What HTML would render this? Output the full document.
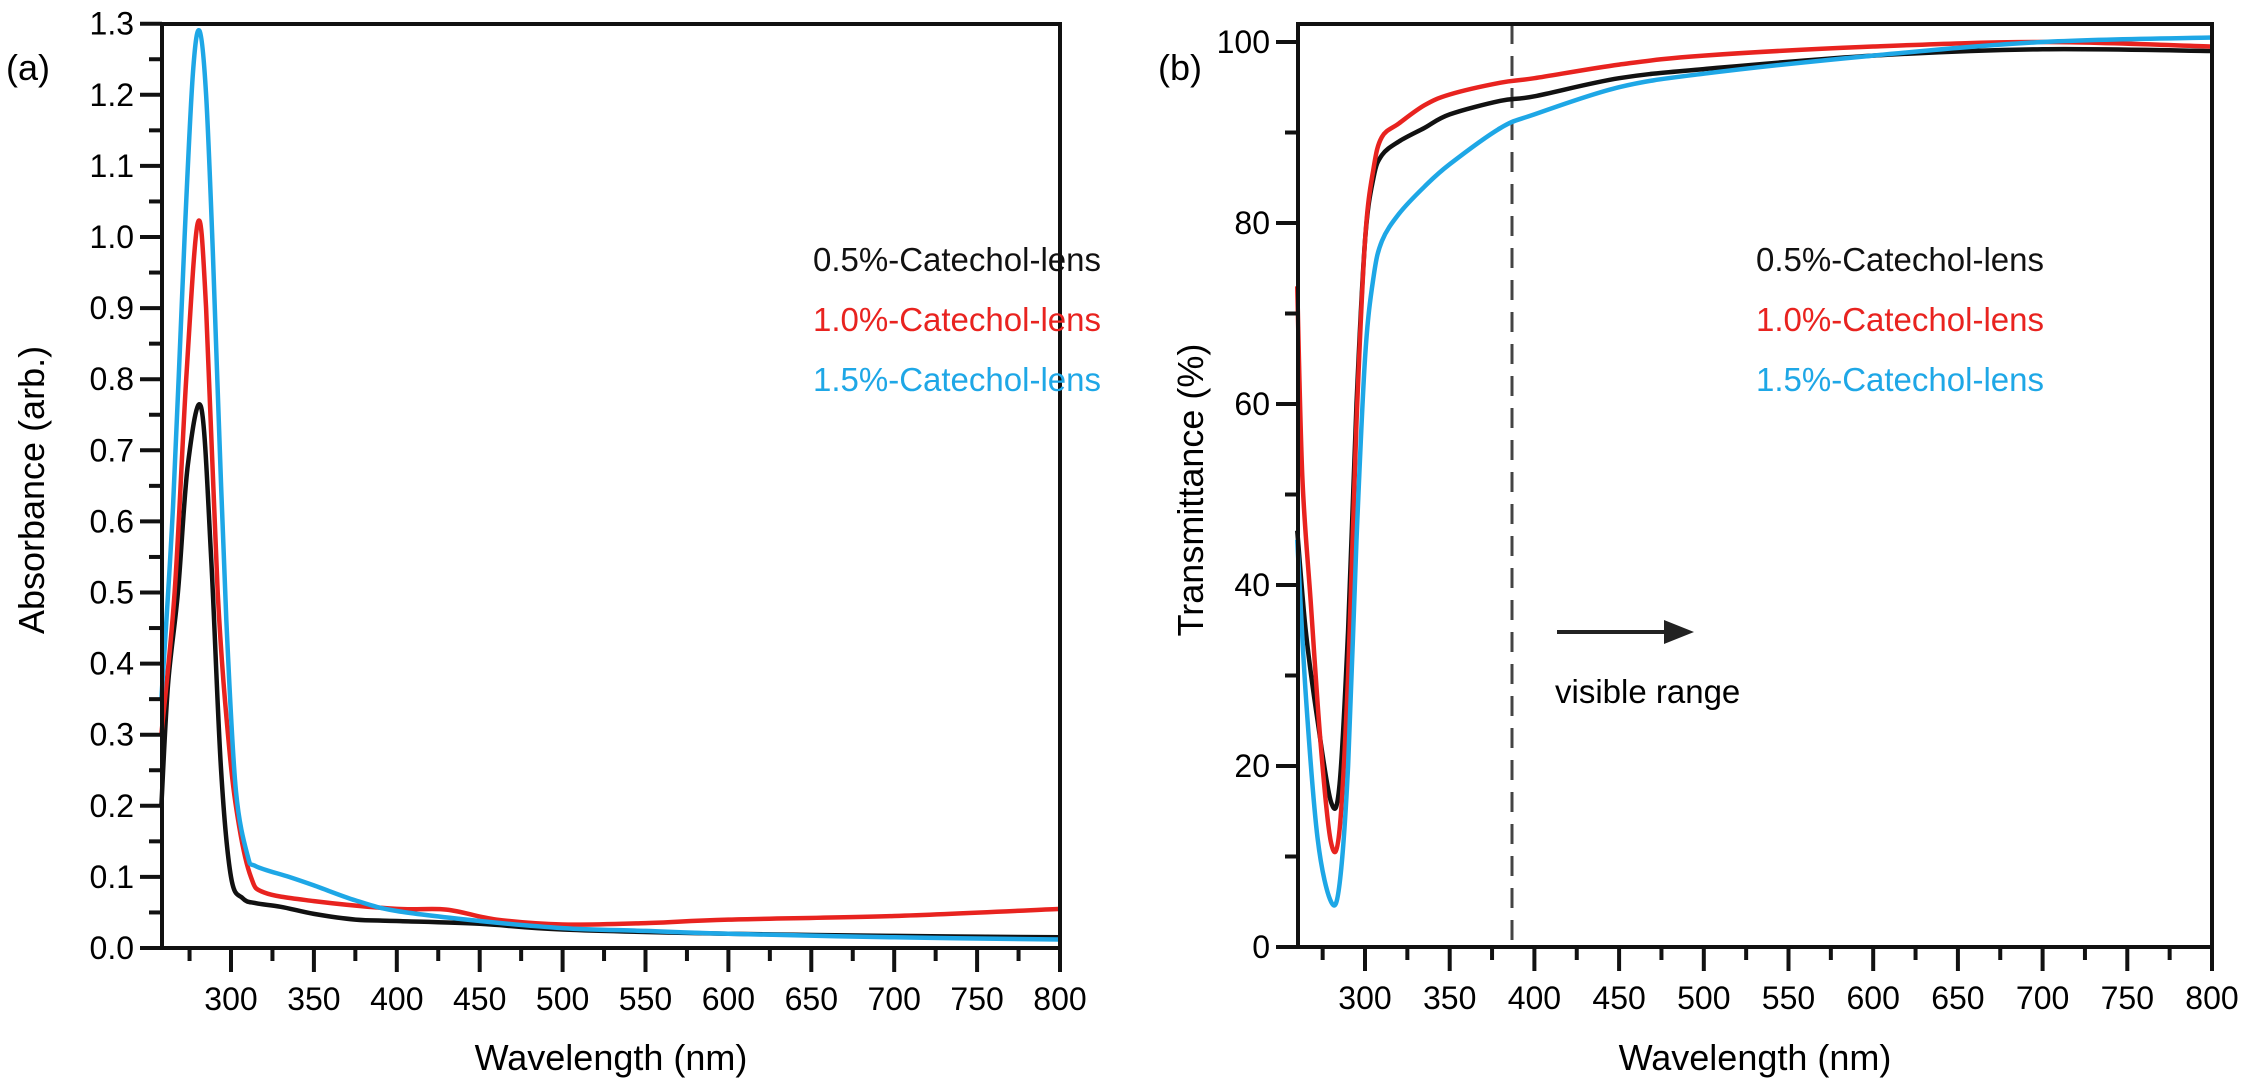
<!DOCTYPE html>
<html><head><meta charset="utf-8"><style>
html,body{margin:0;padding:0;background:#fff;}
svg{display:block;font-family:"Liberation Sans",Arial,sans-serif;}
</style></head><body>
<svg width="2249" height="1085" viewBox="0 0 2249 1085" xmlns="http://www.w3.org/2000/svg">
<g id="a"></g><g id="b"></g>
</svg>
<script>
const NS="http://www.w3.org/2000/svg";
function el(p,t,a,txt){const e=document.createElementNS(NS,t);for(const k in a)e.setAttribute(k,a[k]);if(txt!==undefined)e.textContent=txt;p.appendChild(e);return e;}
// cubic-ish smooth via catmull-rom
function path(pts){let d="M"+pts[0][0]+","+pts[0][1];for(let i=0;i<pts.length-1;i++){const p0=pts[Math.max(i-1,0)],p1=pts[i],p2=pts[i+1],p3=pts[Math.min(i+2,pts.length-1)];const c1=[p1[0]+(p2[0]-p0[0])/6,p1[1]+(p2[1]-p0[1])/6],c2=[p2[0]-(p3[0]-p1[0])/6,p2[1]-(p3[1]-p1[1])/6];d+=` C${c1[0].toFixed(1)},${c1[1].toFixed(1)} ${c2[0].toFixed(1)},${c2[1].toFixed(1)} ${p2[0].toFixed(1)},${p2[1].toFixed(1)}`;}return d;}
const BLK="#111",RED="#e8231f",BLU="#1ea7e6";
// Panel a
(function(){
const g=document.getElementById("a");
const L=162,R=1060,T=24,B=948;
const X=n=>231+(n-300)*1.658, Y=v=>948-v*711;
const data={
k:[[258,0.2],[262,0.37],[268,0.5],[274,0.68],[282,0.76],[288,0.55],[294,0.25],[300,0.1],[307,0.07],[315,0.063],[330,0.058],[350,0.048],[375,0.04],[400,0.038],[450,0.034],[500,0.026],[600,0.02],[700,0.017],[800,0.015]],
r:[[258,0.3],[266,0.5],[273,0.8],[280,1.02],[285,0.9],[292,0.5],[299,0.28],[305,0.17],[312,0.1],[320,0.078],[350,0.066],[400,0.055],[430,0.054],[460,0.04],[500,0.033],[550,0.035],[600,0.04],[700,0.045],[800,0.055]],
b:[[258,0.35],[265,0.62],[272,1.0],[277,1.23],[281,1.29],[285,1.2],[289,0.98],[294,0.65],[298,0.42],[303,0.22],[310,0.13],[315,0.115],[335,0.1],[350,0.088],[375,0.067],[400,0.052],[450,0.038],[500,0.028],[550,0.024],[600,0.02],[700,0.015],[800,0.012]]};
[["k",BLK],["r",RED],["b",BLU]].forEach(([k,c])=>el(g,"path",{d:path(data[k].map(p=>[X(p[0]),Y(p[1])])),fill:"none",stroke:c,"stroke-width":4.5,"stroke-linejoin":"round"}));
el(g,"rect",{x:L,y:T,width:R-L,height:B-T,fill:"none",stroke:"#111","stroke-width":4});
for(let i=0;i<=26;i++){const v=i*0.05,y=Y(v),maj=i%2==0;el(g,"line",{x1:L,x2:L-(maj?22:13),y1:y,y2:y,stroke:"#111","stroke-width":4});if(maj)el(g,"text",{x:L-28,y:y+11,"font-size":32,"text-anchor":"end"},(v).toFixed(1));}
for(let n=275;n<=800;n+=25){const x=X(n),maj=n%50==0;el(g,"line",{x1:x,x2:x,y1:B,y2:B+(maj?24:13),stroke:"#111","stroke-width":4});if(maj)el(g,"text",{x:x,y:B+62,"font-size":32,"text-anchor":"middle"},n);}
el(g,"text",{x:611,y:1070,"font-size":36,"text-anchor":"middle"},"Wavelength (nm)");
el(g,"text",{x:0,y:0,"font-size":36,"text-anchor":"middle",transform:"translate(44,490) rotate(-90)"},"Absorbance (arb.)");
el(g,"text",{x:6,y:80,"font-size":36},"(a)");
el(g,"text",{x:813,y:271,"font-size":33,fill:BLK},"0.5%-Catechol-lens");
el(g,"text",{x:813,y:331,"font-size":33,fill:RED},"1.0%-Catechol-lens");
el(g,"text",{x:813,y:391,"font-size":33,fill:BLU},"1.5%-Catechol-lens");
})();
// Panel b
(function(){
const g=document.getElementById("b");
const L=1298,R=2212,T=24,B=947;
const X=n=>1365+(n-300)*1.694, Y=v=>947-v*9.05;
const data={
k:[[260,46],[265,35],[272,25],[280,16],[285,18],[290,35],[295,60],[300,78],[305,85],[310,87.5],[320,89],[335,90.5],[350,92],[380,93.5],[400,94],[450,96],[500,97],[600,98.5],[700,99.2],[800,99]],
r:[[260,73],[263,52],[268,38],[274,22],[280,11.5],[285,13],[290,30],[295,58],[300,78],[305,86],[310,89.5],[320,91],[335,93],[350,94.2],[380,95.5],[400,96],[450,97.5],[500,98.5],[600,99.5],[700,100],[800,99.5]],
b:[[260,45],[265,28],[272,12],[280,5],[285,7],[290,20],[295,45],[300,65],[305,74],[310,78],[320,81],[335,84],[350,86.5],[380,90.5],[400,92],[450,95],[500,96.5],[600,98.5],[700,100],[800,100.5]]};
el(g,"line",{x1:1512,x2:1512,y1:T,y2:B,stroke:"#444","stroke-width":3,"stroke-dasharray":"20,12"});
[["k",BLK],["r",RED],["b",BLU]].forEach(([k,c])=>el(g,"path",{d:path(data[k].map(p=>[X(p[0]),Y(p[1])])),fill:"none",stroke:c,"stroke-width":4.5,"stroke-linejoin":"round"}));
el(g,"rect",{x:L,y:T,width:R-L,height:B-T,fill:"none",stroke:"#111","stroke-width":4});
for(let v=0;v<=100;v+=10){const y=Y(v),maj=v%20==0;el(g,"line",{x1:L,x2:L-(maj?22:13),y1:y,y2:y,stroke:"#111","stroke-width":4});if(maj)el(g,"text",{x:L-28,y:y+11,"font-size":32,"text-anchor":"end"},v);}
for(let n=275;n<=800;n+=25){const x=X(n),maj=n%50==0;el(g,"line",{x1:x,x2:x,y1:B,y2:B+(maj?24:13),stroke:"#111","stroke-width":4});if(maj)el(g,"text",{x:x,y:B+62,"font-size":32,"text-anchor":"middle"},n);}
el(g,"text",{x:1755,y:1070,"font-size":36,"text-anchor":"middle"},"Wavelength (nm)");
el(g,"text",{x:0,y:0,"font-size":36,"text-anchor":"middle",transform:"translate(1203,490) rotate(-90)"},"Transmittance (%)");
el(g,"text",{x:1158,y:80,"font-size":36},"(b)");
el(g,"text",{x:1756,y:271,"font-size":33,fill:BLK},"0.5%-Catechol-lens");
el(g,"text",{x:1756,y:331,"font-size":33,fill:RED},"1.0%-Catechol-lens");
el(g,"text",{x:1756,y:391,"font-size":33,fill:BLU},"1.5%-Catechol-lens");
el(g,"line",{x1:1557,x2:1668,y1:632,y2:632,stroke:"#222","stroke-width":4});
el(g,"polygon",{points:"1694,632 1664,620 1664,644",fill:"#222"});
el(g,"text",{x:1555,y:703,"font-size":33},"visible range");
})();
</script>
</body></html>
